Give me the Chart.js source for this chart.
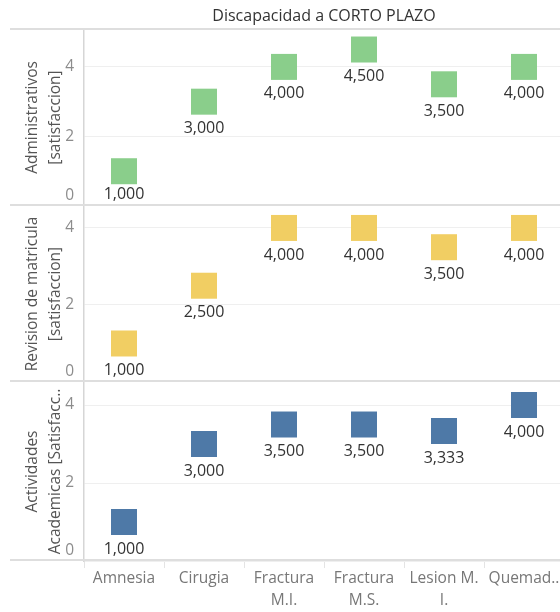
<!DOCTYPE html>
<html lang="es">
<head>
<meta charset="utf-8">
<title>Discapacidad a CORTO PLAZO</title>
<script src="https://cdn.jsdelivr.net/npm/chart.js@4/dist/chart.umd.min.js"></script>
<style>
  html, body { margin: 0; padding: 0; background: #fff; overflow: hidden; }
  #wrap { position: relative; width: 560px; height: 612px; overflow: hidden; }
  #wrap canvas { position: absolute; left: 0; }
</style>
</head>
<body>
<div id="wrap">
  <canvas id="rowAdmin" width="564" height="206" style="top:0"></canvas>
  <canvas id="rowRevision" width="564" height="176" style="top:206px"></canvas>
  <canvas id="rowAcademic" width="564" height="230" style="top:382px"></canvas>
</div>
<script>
// Categories (x axis) and the three satisfaction series, one per row
const categories = [['Amnesia'], ['Cirugia'], ['Fractura', 'M.I.'], ['Fractura', 'M.S.'], ['Lesion M.', 'I.'], ['Quemad..']];
const adminValues = [1.0, 3.0, 4.0, 4.5, 3.5, 4.0];
const revisionValues = [1.0, 2.5, 4.0, 4.0, 3.5, 4.0];
const academicValues = [1.0, 3.0, 3.5, 3.5, 3.333, 4.0];

const chartTitle = 'Discapacidad a CORTO PLAZO';
const adminTitle = ['Administrativos', '[satisfaccion]'];
const revisionTitle = ['Revision de matricula', '[satisfaccion]'];
const academicTitle = ['Actividades', 'Academicas [Satisfacc..'];

Chart.defaults.font.family = "'Open Sans', sans-serif";
Chart.defaults.font.size = 15;

const valueText = v => v.toFixed(3).replace('.', ',');

// Value labels under each square marker
const pointLabels = {
  id: 'pointLabels',
  afterDatasetsDraw(chart) {
    const { ctx, chartArea } = chart;
    ctx.save();
    ctx.font = "16px 'Open Sans', sans-serif";
    ctx.fillStyle = '#333333';
    ctx.textAlign = 'center';
    ctx.textBaseline = 'middle';
    chart.data.datasets.forEach((ds, i) => {
      chart.getDatasetMeta(i).data.forEach((pt, j) => {
        const y = Math.min(pt.y + 27, chartArea.bottom - 12);
        ctx.fillText(valueText(ds.data[j]), pt.x, y);
      });
    });
    ctx.restore();
  }
};

// Horizontal rules separating the panel rows
const rowRules = {
  id: 'rowRules',
  afterDraw(chart, args, opts) {
    const { ctx, chartArea, width } = chart;
    ctx.save();
    ctx.fillStyle = '#dedede';
    ctx.fillRect(10, chartArea.bottom - 2, width - 10, 2);
    if (opts.top) ctx.fillRect(10, chartArea.top - 1, width - 10, 2);
    ctx.restore();
  }
};

function makeRow(canvasId, values, color, rowTitle, yMax, withTitle, withXAxis) {
  return new Chart(document.getElementById(canvasId), {
    type: 'line',
    data: {
      labels: categories,
      datasets: [{
        data: values,
        showLine: false,
        pointStyle: 'rect',
        pointRadius: 18.38,
        pointHoverRadius: 18.38,
        pointBorderWidth: 0,
        backgroundColor: color,
        borderColor: color,
        clip: false
      }]
    },
    options: {
      responsive: false,
      animation: false,
      devicePixelRatio: 1,
      events: [],
      layout: { padding: 0, autoPadding: false },
      plugins: {
        legend: { display: false },
        tooltip: { enabled: false },
        rowRules: { top: withTitle },
        title: {
          display: withTitle,
          text: chartTitle,
          color: '#333333',
          fullSize: false,
          font: { size: 16, weight: 'normal', lineHeight: '20px' },
          padding: { top: 6, bottom: 3 }
        }
      },
      scales: {
        x: {
          type: 'category',
          offset: true,
          display: withXAxis,
          afterFit(scale) { scale.paddingLeft = 0; scale.paddingRight = 0; },
          grid: { offset: true, drawOnChartArea: false, drawTicks: true, tickLength: 7, color: '#e4e4e4' },
          border: { display: false },
          ticks: {
            color: '#777777',
            padding: 0,
            maxRotation: 0,
            autoSkip: false,
            font: { size: 15.5, lineHeight: '22px' }
          }
        },
        y: {
          min: 0,
          max: yMax,
          afterFit(scale) { scale.width = 84; scale.paddingTop = 0; scale.paddingBottom = 0; },
          grid: { color: '#efefef', drawTicks: false },
          border: { color: '#d6d6d6', width: 1.5 },
          ticks: {
            stepSize: 2,
            includeBounds: false,
            padding: 10,
            color: '#8c8c8c',
            font: { size: 15.5, lineHeight: '20px' },
            callback: v => (v === 0 ? ['0', ''] : String(v))
          },
          title: {
            display: true,
            text: rowTitle,
            color: '#555555',
            font: { size: 15.5, lineHeight: '23px' },
            padding: { top: 21, bottom: 0 }
          }
        }
      }
    },
    plugins: [pointLabels, rowRules]
  });
}

makeRow('rowAdmin', adminValues, '#8ace8b', adminTitle, 5.09, true, false);
makeRow('rowRevision', revisionValues, '#f1ce63', revisionTitle, 4.57, false, false);
makeRow('rowAcademic', academicValues, '#4e79a7', academicTitle, 4.59, false, true);
</script>
</body>
</html>
